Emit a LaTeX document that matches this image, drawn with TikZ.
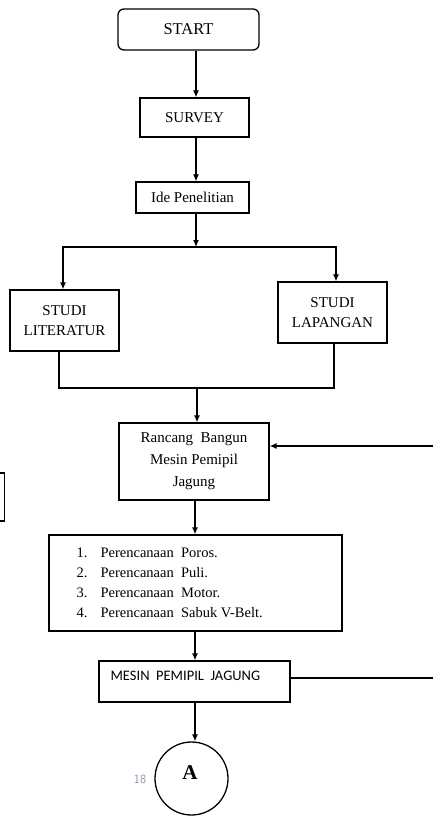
\documentclass[tikz,border=0pt]{standalone}
\usepackage{fontspec}
\setmainfont{Liberation Serif}
\newfontfamily\calfont{Carlito}
\usetikzlibrary{arrows.meta}
\definecolor{pgnum}{HTML}{8794A6}
\begin{document}
\begin{tikzpicture}[x=1pt,y=-1pt,
  line width=1.2pt,
  box/.style={draw, line width=1.3pt, inner sep=0pt, align=center, font=\fontsize{15}{20}\selectfont},
  arr/.style={-{Latex[length=7pt,width=6pt]}, line width=1.2pt},
  ln/.style={line width=1.2pt}]
\useasboundingbox (0,0) rectangle (433,816);
\node[box, rounded corners=6pt, minimum width=141pt, minimum height=41pt, font=\fontsize{16.5}{20}\selectfont] (start) at (188.5,29.5) {START};
\node[box, minimum width=109pt, minimum height=39pt] (survey) at (194.5,117.5) {SURVEY};
\node[box, minimum width=113pt, minimum height=31pt] (ide) at (192.5,197.5) {Ide Penelitian};
\node[box, minimum width=109pt, minimum height=61pt] (lit) at (64.5,320.5) {STUDI\\LITERATUR};
\node[box, minimum width=109pt, minimum height=61pt] (lap) at (332.5,312.5) {STUDI\\LAPANGAN};
\node[box, minimum width=150pt, minimum height=77pt, font=\fontsize{15}{22}\selectfont] (ran) at (194,461.5) {Rancang\ \ Bangun\\Mesin Pemipil\\Jagung};
\node[box, minimum width=293pt, minimum height=96pt] (per) at (195.5,583) {};
\node[anchor=west, inner sep=0pt, align=left, font=\fontsize{14.5}{20}\selectfont] (pertext) at (76,583)
  {\makebox[24pt][l]{1.}Perencanaan\ \ Poros.\\
   \makebox[24pt][l]{2.}Perencanaan\ \ Puli.\\
   \makebox[24pt][l]{3.}Perencanaan\ \ Motor.\\
   \makebox[24pt][l]{4.}Perencanaan\ \ Sabuk V-Belt.};
\node[box, minimum width=191pt, minimum height=41pt] (mes) at (194.5,681.5) {};
\node[anchor=west, inner sep=0pt, font=\calfont\fontsize{14.5}{16}\selectfont] (mestext) at (110,676) {MESIN\ \ PEMIPIL\ \ JAGUNG};
\node[draw, circle, line width=1.3pt, minimum size=73pt, inner sep=0pt] (circ) at (191.5,778.5) {};
\node[inner sep=0pt, font=\fontsize{21}{24}\selectfont\bfseries] (alabel) at (190,773) {A};
\node[inner sep=0pt, text=pgnum, font=\sffamily\fontsize{12.5}{14}\selectfont] (pnum) at (140,779) {18};
% partial box at left edge
\draw[line width=1.3pt] (-10,473) -- (4.5,473) -- (4.5,521) -- (-10,521);
% connectors
\draw[arr] (196,0 |- start.south) -- (196,0 |- survey.north);
\draw[arr] (196,0 |- survey.south) -- (196,0 |- ide.north);
\coordinate (j1) at (196,247);
\draw[arr] (j1 |- ide.south) -- (j1);
\draw[arr] (j1) -| (63,0 |- lit.north);
\draw[arr] (j1) -| (336,0 |- lap.north);
\coordinate (j2) at (197,388);
\draw[ln] (59,0 |- lit.south) |- (j2);
\draw[ln] (334,0 |- lap.south) |- (j2);
\draw[arr] (j2) -- (j2 |- ran.north);
\coordinate (fb1) at (433,446);
\draw[arr] (fb1) -- (ran.east |- fb1);
\draw[arr] (195,0 |- ran.south) -- (195,0 |- per.north);
\draw[arr] (195,0 |- per.south) -- (195,0 |- mes.north);
\coordinate (fb2) at (433,678);
\draw[ln] (mes.east |- fb2) -- (fb2);
\draw[arr] (195,0 |- mes.south) -- (195,0 |- circ.north);
\end{tikzpicture}
\end{document}
